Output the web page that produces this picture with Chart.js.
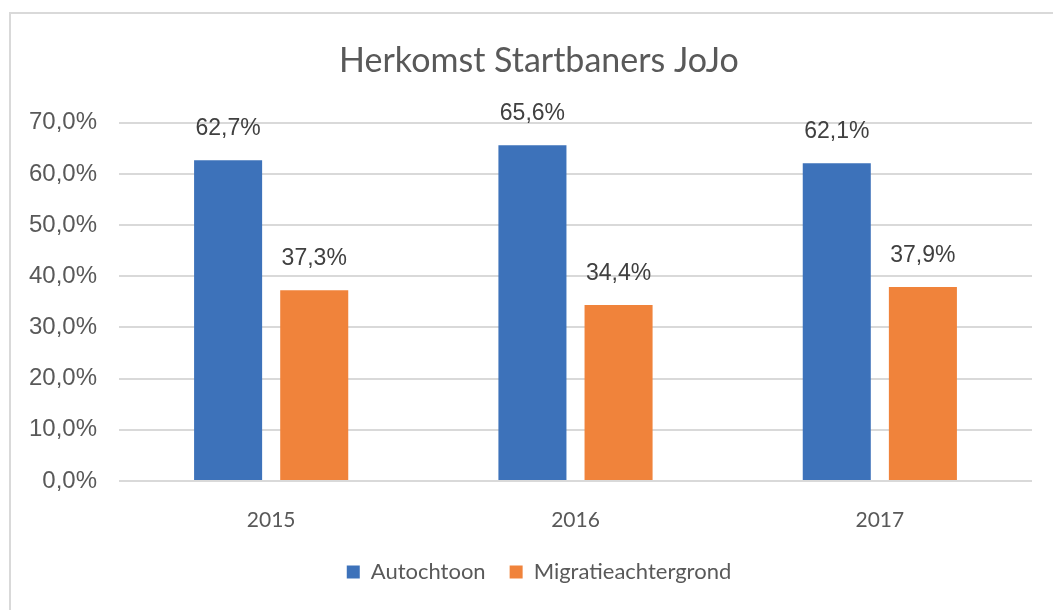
<!DOCTYPE html>
<html><head><meta charset="utf-8">
<script src="https://cdn.jsdelivr.net/npm/chart.js@4.4.0/dist/chart.umd.min.js"></script>
<style>
html,body{margin:0;padding:0;background:#fff;overflow:hidden;width:1053px;height:610px;}
#frame{position:absolute;left:9px;top:12px;width:1100px;height:620px;border-top:2px solid #d9d9d9;border-left:2px solid #d9d9d9;}
#c{position:absolute;left:11px;top:13px;}
</style></head><body>
<div id="frame"></div>
<canvas id="c" width="1056" height="597"></canvas>
<script>
const chartTitle = 'Herkomst Startbaners JoJo';
const categories = ['2015', '2016', '2017'];
const seriesNames = ['Autochtoon', 'Migratieachtergrond'];
const autochtoon = [62.7, 65.6, 62.1];
const migratieachtergrond = [37.3, 34.4, 37.9];
const yTickValues = [0, 10, 20, 30, 40, 50, 60, 70];
const seriesColors = ['#3d72ba', '#f0833b'];

function fmtPct(v, d) { return v.toFixed(d).replace('.', ',') + '%'; }

const valueLabels = {
  id: 'valueLabels',
  afterDatasetsDraw(chart) {
    const ctx = chart.ctx;
    ctx.save();
    ctx.font = '23px "Liberation Sans", Arial, sans-serif';
    ctx.fillStyle = '#404040';
    ctx.textAlign = 'center';
    ctx.textBaseline = 'alphabetic';
    chart.data.datasets.forEach((ds, i) => {
      chart.getDatasetMeta(i).data.forEach((el, j) => {
        ctx.fillText(fmtPct(ds.data[j], 1), el.x, el.y - 25);
      });
    });
    ctx.restore();
  }
};

// Centre title and legend over the whole chart container (not the padded area)
const centreBlocks = {
  id: 'centreBlocks',
  afterLayout(chart) {
    [chart.titleBlock, chart.legend].forEach(b => {
      if (b) { b.left = 0; b.right = chart.width; b.width = chart.width; }
    });
  }
};

new Chart(document.getElementById('c'), {
  type: 'bar',
  data: {
    labels: categories,
    datasets: [
      { label: seriesNames[0], data: autochtoon, backgroundColor: seriesColors[0], categoryPercentage: 0.566, barPercentage: 0.79 },
      { label: seriesNames[1], data: migratieachtergrond, backgroundColor: seriesColors[1], categoryPercentage: 0.566, barPercentage: 0.79 }
    ]
  },
  options: {
    responsive: false,
    animation: false,
    devicePixelRatio: 1,
    layout: { padding: { left: 0, right: 35, top: 0, bottom: 17 } },
    plugins: {
      title: {
        display: true,
        text: chartTitle,
        color: '#595959',
        font: { family: 'Lato', size: 34, weight: 'normal' },
        padding: { top: 28, bottom: 41 }
      },
      legend: {
        position: 'bottom',
        labels: {
          boxWidth: 13, boxHeight: 13, padding: 24,
          color: '#595959',
          font: { family: 'Lato', size: 22 }
        }
      },
      tooltip: { enabled: false }
    },
    scales: {
      x: {
        grid: { display: false },
        border: { display: false },
        ticks: { color: '#595959', font: { family: 'Lato', size: 21 }, padding: 19 },
        afterFit(s) { s.height = 56; }
      },
      y: {
        min: 0, max: 70,
        afterBuildTicks(s) { s.ticks = yTickValues.map(v => ({ value: v })); },
        grid: { color: '#d9d9d9', lineWidth: 2, drawTicks: false },
        border: { display: false },
        ticks: {
          color: '#595959', padding: 22,
          font: { family: '"Liberation Sans", Arial, sans-serif', size: 24 },
          callback: v => fmtPct(v, 1)
        },
        afterFit(s) { s.width = 108; }
      }
    }
  },
  plugins: [valueLabels, centreBlocks]
});
</script>
</body></html>
